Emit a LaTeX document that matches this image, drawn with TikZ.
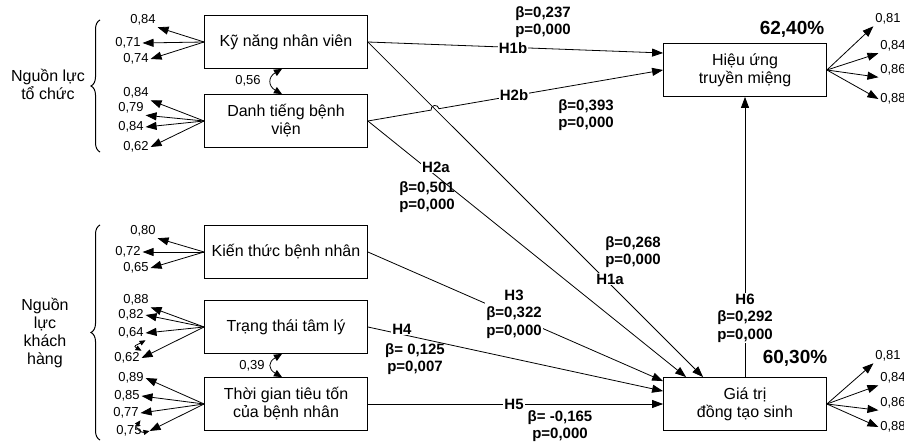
\documentclass[tikz,border=0pt]{standalone}
\usepackage{fontspec}
\setmainfont{Liberation Sans}
\usepackage{tikz}
\usetikzlibrary{arrows.meta,calc,decorations.pathreplacing}
\newcommand{\boxfont}{\fontsize{16}{18}\selectfont}
\newcommand{\indfont}{\fontsize{13}{14}\selectfont}
\newcommand{\hypfont}{\fontsize{15}{17.5}\selectfont\bfseries}
\newcommand{\rsqfont}{\fontsize{19}{21}\selectfont\bfseries}
\tikzset{
  latent/.style={draw,minimum width=163pt,minimum height=53pt,font=\boxfont,align=center,inner sep=2pt},
  ind/.style={font=\indfont,inner sep=1.5pt},
  side/.style={font=\boxfont,align=center},
  arr/.style={-{Triangle[length=11pt,width=8pt]}},
  corr/.style={{Triangle[length=8pt,width=7pt]}-{Triangle[length=8pt,width=7pt]}},
  ecorr/.style={{Triangle[length=6pt,width=5pt]}-{Triangle[length=6pt,width=5pt]}},
  hyp/.style={font=\hypfont,align=center,inner sep=1pt,fill=white},
  coef/.style={font=\hypfont,align=center,inner sep=1pt},
  rsq/.style={font=\rsqfont},
  grp/.style={decorate,decoration={brace,amplitude=9pt},line width=1pt},
}

\begin{document}
\begin{tikzpicture}[x=1pt,y=-1pt,line width=0.8pt]
\useasboundingbox (0,0) rectangle (904,446);

\node[latent] (kn) at (286,42) {Kỹ năng nhân viên};
\node[latent] (dt) at (286,121) {Danh tiếng bệnh\\viện};
\node[latent] (kt) at (286,252) {Kiến thức bệnh nhân};
\node[latent] (tt) at (286,327) {Trạng thái tâm lý};
\node[latent] (tg) at (286,404) {Thời gian tiêu tốn\\của bệnh nhân};
\node[latent] (hu) at (745,70) {Hiệu ứng\\truyền miệng};
\node[latent] (gt) at (745,404) {Giá trị\\đồng tạo sinh};

\node[side] (org) at (48,84) {Nguồn lực\\tổ chức};
\node[side] (kh) at (45,333) {Nguồn\\lực\\khách\\hàng};
\draw[grp] (100,152) -- (100,20);
\draw[grp] (100,440) -- (100,225);

\node[ind] (kn1) at (143,20) {0,84};
\node[ind] (kn2) at (128,43) {0,71};
\node[ind] (kn3) at (136,59) {0,74};
\node[ind] (dt1) at (136,93) {0,84};
\node[ind] (dt2) at (131,108) {0,79};
\node[ind] (dt3) at (131,127) {0,84};
\node[ind] (dt4) at (136,147) {0,62};
\node[ind] (kt1) at (143,231) {0,80};
\node[ind] (kt2) at (128,252) {0,72};
\node[ind] (kt3) at (136,268) {0,65};
\node[ind] (tt1) at (136,300) {0,88};
\node[ind] (tt2) at (131,315) {0,82};
\node[ind] (tt3) at (131,333) {0,64};
\node[ind] (tt4) at (127,358) {0,62};
\node[ind] (tg1) at (131,378) {0,89};
\node[ind] (tg2) at (127,396) {0,85};
\node[ind] (tg3) at (126,413) {0,77};
\node[ind] (tg4) at (129,431) {0,75};
\node[ind] (hu1) at (888,19) {0,81};
\node[ind] (hu2) at (893,46) {0,84};
\node[ind] (hu3) at (893,70) {0,86};
\node[ind] (hu4) at (893,99) {0,88};
\node[ind] (gt1) at (888,356) {0,81};
\node[ind] (gt2) at (893,378) {0,84};
\node[ind] (gt3) at (893,403) {0,86};
\node[ind] (gt4) at (893,427) {0,88};

\draw[arr] (kn.west) -- (kn1.south east);
\draw[arr] (kn.west) -- (kn2.east);
\draw[arr] (kn.west) -- (kn3.east);
\draw[arr] (dt.west) -- (dt1.south east);
\draw[arr] (dt.west) -- (dt2.south east);
\draw[arr] (dt.west) -- (dt3.east);
\draw[arr] (dt.west) -- (dt4.east);
\draw[arr] (kt.west) -- (kt1.south east);
\draw[arr] (kt.west) -- (kt2.east);
\draw[arr] (kt.west) -- (kt3.east);
\draw[arr] (tt.west) -- (tt1.south east);
\draw[arr] (tt.west) -- (tt2.east);
\draw[arr] (tt.west) -- (tt3.east);
\draw[arr] (tt.west) -- (tt4.east);
\draw[arr] (tg.west) -- (tg1.east);
\draw[arr] (tg.west) -- (tg2.east);
\draw[arr] (tg.west) -- (tg3.east);
\draw[arr] (tg.west) -- ([xshift=6pt]tg4.east);
\draw[arr] (hu.east) -- (hu1.south west);
\draw[arr] (hu.east) -- (hu2.south west);
\draw[arr] (hu.east) -- (hu3.south west);
\draw[arr] (hu.east) -- (hu4.west);
\draw[arr] (gt.east) -- (gt1.south west);
\draw[arr] (gt.east) -- (gt2.south west);
\draw[arr] (gt.east) -- (gt3.south west);
\draw[arr] (gt.east) -- (gt4.west);

\draw[ecorr] (tt3.south east) .. controls +(-9,5) and +(-9,-5) .. (tt4.north east);
\draw[ecorr] (tg3.south east) .. controls +(-6,8) and +(-8,2) .. ([xshift=6pt]tg4.east);
\draw[corr] ([xshift=-4pt]kn.south) .. controls +(-14,8) and +(-14,-8) .. ([xshift=-4pt]dt.north);
\draw[corr] ([xshift=-4pt]tt.south) .. controls +(-14,8) and +(-14,-8) .. ([xshift=-4pt]tg.north);
\node[ind] (k56) at (248,81) {0,56};
\node[ind] (k39) at (252,366) {0,39};

\draw[arr] (kn.east) -- ([yshift=17pt]hu.west);
\draw[arr] (dt.east) -- ($(dt.east)!0.214!(hu.west)$) arc[start angle=190,end angle=10,radius=4pt] -- (hu.west);
\draw[arr] (kn.east) -- ([xshift=40pt]gt.north west);
\draw[arr] (dt.east) -- ([xshift=23pt]gt.north west);
\draw[arr] (kt.east) -- ([yshift=-4pt]gt.north west);
\draw[arr] (tt.east) -- ([yshift=-14pt]gt.north west);
\draw[arr] (tg.east) -- (gt.west);
\draw[arr] (gt.north) -- (hu.south);

\node[hyp] (h1b) at (513,48) {H1b};
\node[coef] (c1b) at (543,22) {β=0,237\\p=0,000};
\node[hyp] (h2b) at (514,95) {H2b};
\node[coef] (c2b) at (586,115) {β=0,393\\p=0,000};
\node[hyp] (h2a) at (436,167) {H2a};
\node[coef] (c2a) at (427,197) {β=0,501\\p=0,000};
\node[hyp] (h1a) at (610,279) {H1a};
\node[coef] (c1a) at (633,252) {β=0,268\\p=0,000};
\node[hyp] (h3) at (514,314) {H3\\β=0,322\\p=0,000};
\node[hyp] (h4) at (402,329) {H4};
\node[coef] (c4) at (415,359) {β= 0,125\\p=0,007};
\node[hyp] (h5) at (514,404) {H5};
\node[coef] (c5) at (560,426) {β= -0,165\\p=0,000};
\node[hyp] (h6) at (745,318) {H6\\β=0,292\\p=0,000};
\node[rsq] (r1) at (792,29) {62,40\%};
\node[rsq] (r2) at (795,358) {60,30\%};
\end{tikzpicture}
\end{document}
